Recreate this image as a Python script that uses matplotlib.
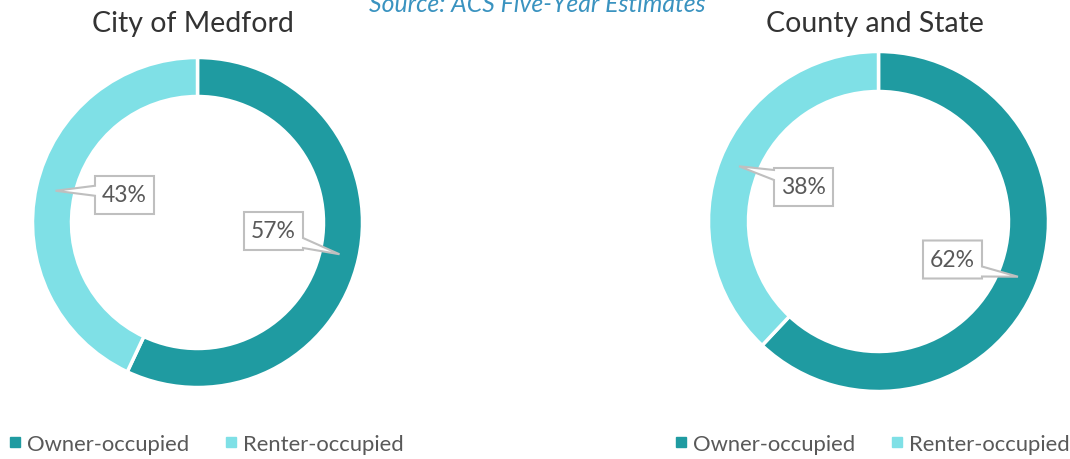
import matplotlib
matplotlib.use("Agg")
import matplotlib.pyplot as plt
from matplotlib.patches import Polygon
from matplotlib.lines import Line2D
import numpy as np

# ---- data ----
categories = ["Owner-occupied", "Renter-occupied"]
medford_values = [57, 43]
county_values = [62, 38]
chart_titles = ["City of Medford", "County and State"]
source_note = "Source: ACS Five-Year Estimates"

# ---- style ----
colors = ["#1f9ba1", "#7fe0e6"]
text_gray = "#595959"
W, H = 1070, 460
FONT = ["Lato", "DejaVu Sans"]
plt.rcParams["font.family"] = FONT

fig = plt.figure(figsize=(W / 100, H / 100), dpi=100)
ax = fig.add_axes([0, 0, 1, 1])


def fy(y):  # image y (top-down) -> axes y (bottom-up)
    return H - y


donuts = [
    dict(values=medford_values, cx=197.5, cy=223.5, r=165, w=39, title_x=193, title_y=24,
         label_pos=[(273.5, 232), (124.5, 196)]),
    dict(values=county_values, cx=878.5, cy=222.5, r=170, w=40, title_x=875, title_y=24,
         label_pos=[(952.5, 260.5), (803.5, 188)]),
]

bw, bh = 59, 38
for d, t in zip(donuts, chart_titles):
    vals = d["values"]
    ax.pie(vals, colors=colors, startangle=90, counterclock=False,
           radius=d["r"], center=(d["cx"], fy(d["cy"])),
           wedgeprops=dict(width=d["w"], edgecolor="white", linewidth=2.5))
    ax.text(d["title_x"], fy(d["title_y"]), t, ha="center", va="center",
            fontsize=20.5, color="#333333")
    total = float(sum(vals))
    cum = 0.0
    for v, (lx, ly) in zip(vals, d["label_pos"]):
        mid = 90 - (cum + v / 2) / total * 360
        cum += v
        rm = d["r"] - d["w"] / 2
        tx = d["cx"] + rm * np.cos(np.radians(mid))
        ty = fy(d["cy"]) + rm * np.sin(np.radians(mid))
        x0, x1 = lx - bw / 2, lx + bw / 2
        yb, yt = fy(ly) - bh / 2, fy(ly) + bh / 2
        c = min(max(ty, yb + 7), yt - 7)
        if tx < x0:
            pts = [(x0, yt), (x1, yt), (x1, yb), (x0, yb), (x0, c - 5), (tx, ty), (x0, c + 5)]
        else:
            pts = [(x0, yt), (x1, yt), (x1, c + 5), (tx, ty), (x1, c - 5), (x1, yb), (x0, yb)]
        ax.add_patch(Polygon(pts, closed=True, facecolor="white", edgecolor="#bfbfbf",
                             linewidth=1.5, zorder=5))
        ax.text(lx, fy(ly), f"{v:.0f}%", ha="center", va="center", fontsize=16.5,
                color=text_gray, zorder=6)

ax.text(537, fy(5), source_note, ha="center", va="center", fontsize=17.8,
        style="italic", color="#3a93c0")

# legends
handles = [Line2D([], [], marker="s", linestyle="none", markersize=6.5,
                  markerfacecolor=c, markeredgecolor=c) for c in colors]
for lx in [0, 666]:
    fig.legend(handles, categories, loc="center left",
               bbox_to_anchor=(lx / W, 1 - 445 / H), ncol=2, frameon=False,
               fontsize=15.8, labelcolor=text_gray, handlelength=0.6,
               handletextpad=0.25, columnspacing=1.6, borderaxespad=0)

ax.set_xlim(0, W)
ax.set_ylim(0, H)
ax.set_aspect("equal")
ax.axis("off")
fig.savefig("out.png", dpi=100)
